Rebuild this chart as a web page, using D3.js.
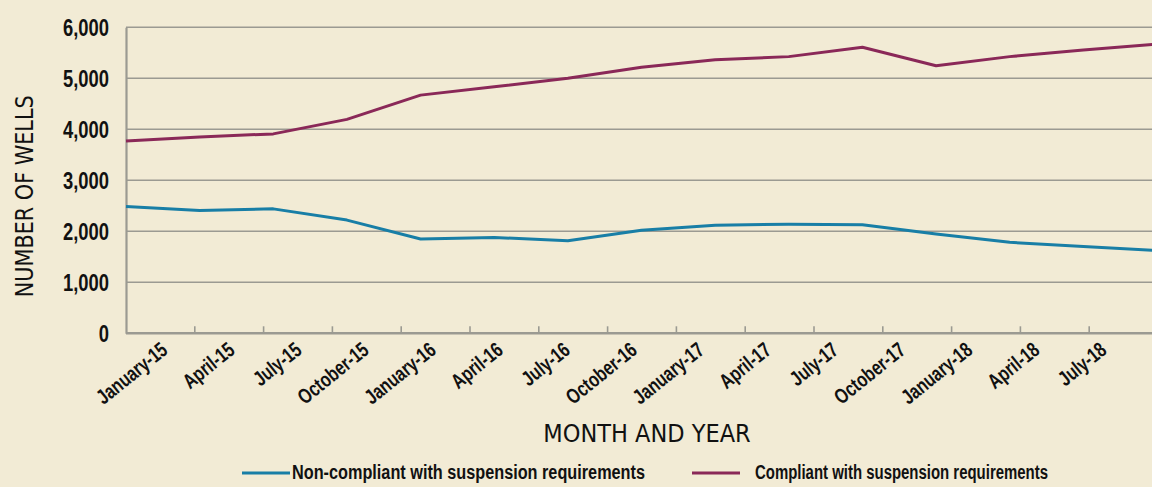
<!DOCTYPE html>
<html>
<head>
<meta charset="utf-8">
<script src="https://cdn.jsdelivr.net/npm/d3@7"></script>
<style>
  html, body { margin: 0; padding: 0; background: #f2ebd5; }
  svg { display: block; }
</style>
</head>
<body>
<svg id="chart" width="1152" height="487"></svg>
<script>
const categories = ["January-15","April-15","July-15","October-15","January-16","April-16","July-16","October-16","January-17","April-17","July-17","October-17","January-18","April-18","July-18"];
const nonCompliant = [2485, 2410, 2440, 2220, 1850, 1880, 1815, 2020, 2120, 2140, 2130, 1945, 1785, 1700, 1625];
const compliant = [3770, 3850, 3910, 4195, 4670, 4835, 5000, 5215, 5365, 5425, 5610, 5245, 5425, 5555, 5670];
const yTicks = [0, 1000, 2000, 3000, 4000, 5000, 6000];
const seriesNames = ["Non-compliant with suspension requirements", "Compliant with suspension requirements"];
const seriesColors = ["#187ea6", "#8a2858"];

(function () {
const svg = d3.select("#chart");
const W = 1152, H = 487;
svg.append("rect").attr("width", W).attr("height", H).attr("fill", "#f2ebd5");

const pLeft = 126, pRight = 1157, pTop = 27.3, pBottom = 333.3;
const x = d3.scalePoint().domain(categories).range([pLeft, pRight]);
const xBand = d3.scaleBand().domain(categories).range([pLeft, pRight + 1]);
const xLabel = d3.scalePoint().domain(categories).range([169, 1108]);
const y = d3.scaleLinear().domain([0, 6000]).range([pBottom, pTop]);

const sans = "'Liberation Sans', Arimo, Arial, sans-serif";
const cond = "'DejaVu Sans Condensed', 'DejaVu Sans', sans-serif";
const gridColor = "#9b9a92";

// gridlines
svg.append("g").selectAll("line").data(yTicks.filter(d => d > 0)).join("line")
  .attr("x1", pLeft).attr("x2", W)
  .attr("y1", d => y(d)).attr("y2", d => y(d))
  .attr("stroke", gridColor).attr("stroke-width", 1.6);

// y axis (domain line only from axis generator)
const yAxis = d3.axisLeft(y).tickValues(yTicks).tickSize(0).tickFormat("");
const gy = svg.append("g").attr("transform", `translate(${pLeft},0)`).call(yAxis);
gy.select(".domain").attr("stroke", gridColor).attr("stroke-width", 2.2);

// y tick labels (condensed)
svg.append("g").selectAll("text").data(yTicks).join("text")
  .attr("transform", d => `translate(${pLeft - 17},${y(d)}) scale(0.8,1)`)
  .attr("text-anchor", "end").attr("dy", "0.36em")
  .attr("font-family", sans).attr("font-weight", "bold").attr("font-size", 23)
  .attr("fill", "#111").text(d => d3.format(",")(d));

// x axis line and ticks
svg.append("line").attr("x1", pLeft).attr("x2", W).attr("y1", pBottom).attr("y2", pBottom)
  .attr("stroke", gridColor).attr("stroke-width", 2.4);
svg.append("g").selectAll("line").data(categories.slice(1)).join("line")
  .attr("x1", d => xBand(d)).attr("x2", d => xBand(d))
  .attr("y1", pBottom).attr("y2", pBottom - 7)
  .attr("stroke", gridColor).attr("stroke-width", 1.6);

// x labels
svg.append("g").selectAll("text").data(categories).join("text")
  .attr("transform", d => `translate(${xLabel(d)},${pBottom + 19}) rotate(-39) scale(0.76,1)`)
  .attr("text-anchor", "end")
  .attr("font-family", sans).attr("font-weight", "bold").attr("font-size", 21)
  .attr("fill", "#111").text(d => d);

// lines
const line = d3.line().x((d, i) => x(categories[i])).y(d => y(d));
[nonCompliant, compliant].forEach((s, k) => {
  svg.append("path").datum(s).attr("d", line).attr("fill", "none")
    .attr("stroke", seriesColors[k]).attr("stroke-width", 3).attr("stroke-linejoin", "round");
});

// axis titles
svg.append("text").attr("transform", `translate(33,${(pTop + pBottom) / 2 + 16}) rotate(-90)`)
  .attr("text-anchor", "middle").attr("font-family", cond).attr("font-size", 25)
  .attr("textLength", 202).attr("lengthAdjust", "spacingAndGlyphs")
  .attr("fill", "#111").text("NUMBER OF WELLS");
svg.append("text").attr("x", 647).attr("y", 442).attr("text-anchor", "middle")
  .attr("font-family", cond).attr("font-size", 25).attr("fill", "#111").text("MONTH AND YEAR");

// legend
const legendX = [242, 692];
const legendTextX = [292, 755];
const legendTextW = [353, 293];
seriesNames.forEach((n, k) => {
  svg.append("line").attr("x1", legendX[k]).attr("x2", legendX[k] + 48)
    .attr("y1", 473).attr("y2", 473).attr("stroke", seriesColors[k]).attr("stroke-width", 3);
  svg.append("text").attr("x", legendTextX[k]).attr("y", 479)
    .attr("font-family", sans).attr("font-weight", "bold").attr("font-size", 20)
    .attr("textLength", legendTextW[k]).attr("lengthAdjust", "spacingAndGlyphs")
    .attr("fill", "#111").text(n);
});
})();
</script>
</body>
</html>
